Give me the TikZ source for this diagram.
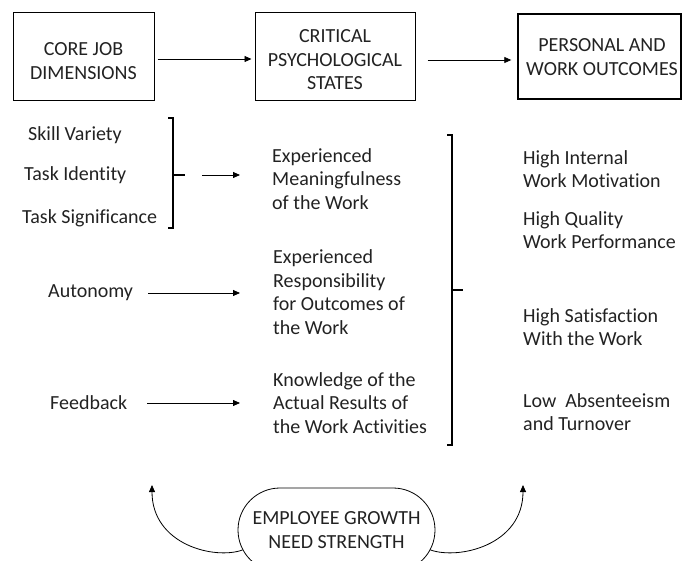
\documentclass[tikz,border=0pt]{standalone}
\usepackage{fontspec}
\setmainfont{Carlito}[Ligatures={NoCommon}]
\usetikzlibrary{arrows.meta,shapes.misc}
\definecolor{ink}{HTML}{222222}
\begin{document}
\begin{tikzpicture}[x=1pt,y=-1pt,
  font=\fontsize{20}{23.5}\selectfont, text=ink,
  headbox/.style={draw, line width=1pt, inner sep=0pt},
  headtext/.style={align=center, inner sep=0pt},
  label/.style={align=left, anchor=west, inner sep=0pt},
  flow/.style={-{Triangle[length=7pt,width=6pt]}, line width=0.8pt},
  brack/.style={line width=1.3pt},
  growth/.style={draw, rounded rectangle, line width=0.8pt, align=center,
    minimum width=197pt, minimum height=84pt, inner sep=0pt}]
\useasboundingbox (0,0) rectangle (683,561);

% header boxes
\node[headbox, minimum width=141pt, minimum height=88pt] (core) at (83.5,57) {};
\node[headbox, minimum width=160pt, minimum height=88pt] (cps) at (335,57) {};
\node[headbox, line width=1.4pt, minimum width=163pt, minimum height=85pt] (pwo) at (599.5,56.5) {};
\node[headtext] (coret) at (83.5,61) {CORE JOB\\DIMENSIONS};
\node[headtext] (cpst) at (335,60) {CRITICAL\\PSYCHOLOGICAL\\STATES};
\node[headtext] (pwot) at (602,57) {PERSONAL AND\\WORK OUTCOMES};

\draw[flow, shorten <=3pt, shorten >=3pt] ([yshift=-2pt]core.east) -- ([yshift=-2pt]cps.west);
\draw[flow, shorten <=12pt, shorten >=6pt] ([yshift=-3pt]cps.east) -- ([yshift=-3pt]cps.east -| pwo.west);

% core job dimensions
\node[label] (skill) at (28,135) {Skill Variety};
\node[label] (ident) at (24,175) {Task Identity};
\node[label] (signif) at (22,218) {Task Significance};
\node[label] (auton) at (48,293) {Autonomy};
\node[label] (feed) at (50,403) {Feedback};

\draw[brack] (168,118) -- (173,118) -- (173,228) -- (168,228);
\draw[brack] (173,175) -- (185,175) coordinate (tick);

% critical psychological states
\node[label] (mean) at (272,179) {Experienced\\Meaningfulness\\of the Work};
\node[label] (resp) at (273,292) {Experienced\\Responsibility\\for Outcomes of\\the Work};
\node[label] (know) at (273,403) {Knowledge of the\\Actual Results of\\the Work Activities};

\draw[flow, shorten <=17pt, shorten >=32pt] (tick) -- (tick -| mean.west);
\draw[flow, shorten <=15pt, shorten >=33pt] (auton.east) -- (auton.east -| resp.west);
\draw[flow, shorten <=20pt, shorten >=33pt] (feed.east) -- (feed.east -| know.west);

% outcomes
\draw[brack] (447,135) -- (452,135) -- (452,445) -- (447,445);
\draw[brack] (452,290) -- (463,290);

\node[label] (motiv) at (523,169) {High Internal\\Work Motivation};
\node[label] (qual) at (523,230) {High Quality\\Work Performance};
\node[label] (satis) at (523,327) {High Satisfaction\\With the Work};
\node[label] (absent) at (523,412) {Low\ \ Absenteeism\\and Turnover};

% moderator
\node[growth] (egn) at (336.5,530) {EMPLOYEE GROWTH\\NEED STRENGTH};
\coordinate (ltip) at (152,485);
\coordinate (rtip) at (523,485);
\draw[flow] (egn.192) .. controls (215,560) and (152,545) .. (ltip);
\draw[flow] (egn.-12) .. controls (459,560) and (523,545) .. (rtip);
\end{tikzpicture}
\end{document}
